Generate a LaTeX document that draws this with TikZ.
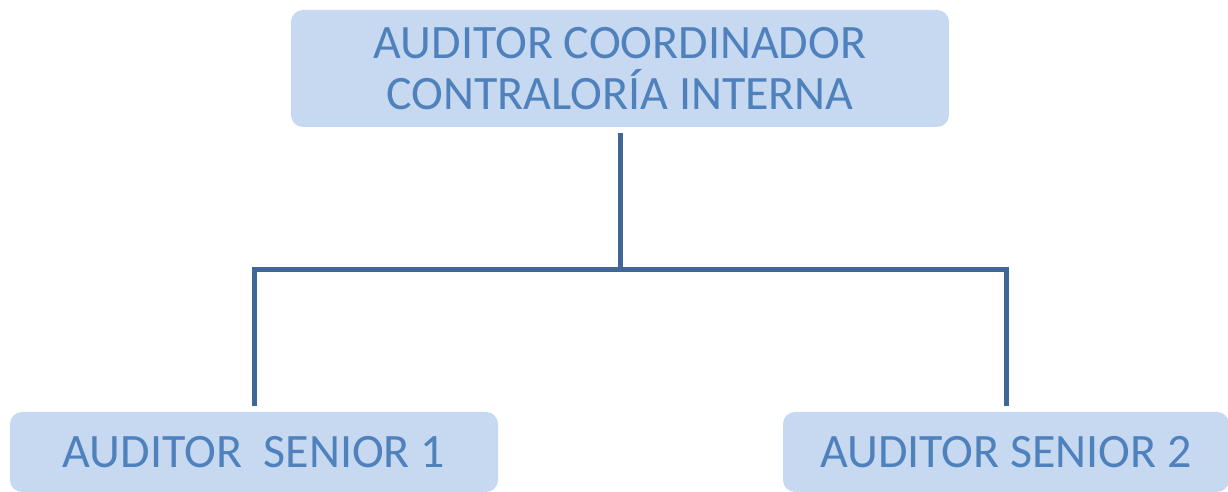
\documentclass[tikz,border=0pt]{standalone}
\usepackage{fontspec}
\setmainfont{Carlito}
\usepackage{tikz}

\definecolor{cajafondo}{HTML}{C6D9F1}
\definecolor{cajatexto}{HTML}{4F81BD}
\definecolor{linea}{HTML}{41679A}

\tikzset{
	cargo/.style={rectangle, rounded corners=2.4mm, fill=cajafondo, text=cajatexto,
		align=center, inner sep=0pt, font=\fontsize{27.3}{28.7}\selectfont},
	enlace/.style={draw=linea, line width=1mm, shorten <=1.2mm, shorten >=1.2mm}
}

\begin{document}
\begin{tikzpicture}[x=0.2mm,y=-0.2mm]
		\useasboundingbox (0,0) rectangle (1228,492);
		\node[cargo, minimum width=131.6mm, minimum height=23.4mm] (coord) at (620,68.5)
		{AUDITOR COORDINADOR\\CONTRALORÍA INTERNA};
		\node[cargo, minimum width=97.6mm, minimum height=16mm] (senior1) at (254,452)
		{AUDITOR~~SENIOR 1};
		\node[cargo, minimum width=89.2mm, minimum height=16mm] (senior2) at (1006,452)
		{AUDITOR SENIOR 2};
		\coordinate (bus) at (620,270);
		\draw[enlace, shorten >=-0.5mm] (coord.south) -- (bus);
		\draw[enlace] (senior1.north) |- (bus) -| (senior2.north);
	\end{tikzpicture}
\end{document}
